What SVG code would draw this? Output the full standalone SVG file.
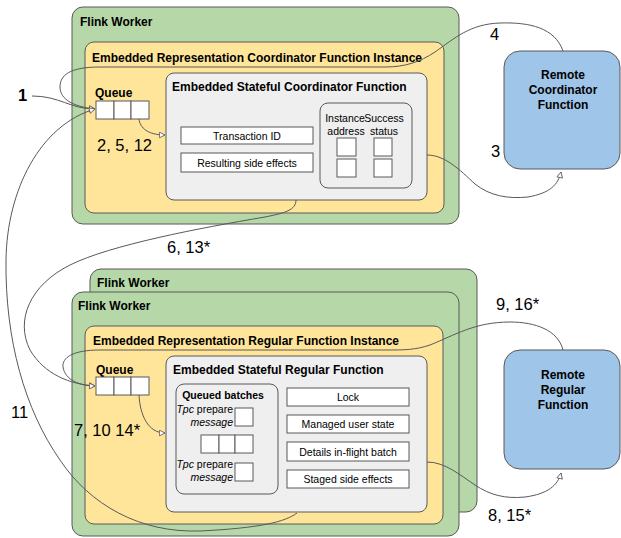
<svg xmlns="http://www.w3.org/2000/svg" width="621" height="538" viewBox="0 0 621 538">
<defs>
<style>
text{font-family:"Liberation Sans",Arial,sans-serif;fill:#000}
.worker{fill:#b6d7a8;stroke:#595959;stroke-width:1}
.inst{fill:#ffe599;stroke:#595959;stroke-width:1}
.func{fill:#efefef;stroke:#595959;stroke-width:1}
.remote{fill:#9fc5e8;stroke:#595959;stroke-width:1}
.cell{fill:#fff;stroke:#595959;stroke-width:1}
.t12b{font-size:12px;font-weight:bold}
.t105{font-size:10.5px}
.t105b{font-size:10.5px;font-weight:bold}
.num{font-size:16.5px}
.mid{text-anchor:middle}
.end{text-anchor:end}
.conn{fill:none;stroke:#595959;stroke-width:1}
</style>
<marker id="arr" viewBox="0 0 10 10" refX="9" refY="5" markerWidth="7" markerHeight="7" markerUnits="userSpaceOnUse" orient="auto">
<path d="M1,1 L9,5 L1,9 Z" fill="#fff" stroke="#595959" stroke-width="1.2"/>
</marker>
</defs>
<rect width="621" height="538" fill="#fff"/>

<g id="coord-worker">
<rect class="worker" x="72" y="7" width="387" height="217" rx="11"/>
<text class="t12b" x="80" y="26">Flink Worker</text>
</g>
<g id="coord-instance">
<rect class="inst" x="85" y="42" width="359" height="171" rx="9"/>
<text class="t12b" x="92" y="61.5">Embedded Representation Coordinator Function Instance</text>
</g>
<g id="coord-queue">
<text class="t12b" x="95" y="97">Queue</text>
<rect class="cell" x="96" y="101" width="18" height="18"/>
<rect class="cell" x="114" y="101" width="17" height="18"/>
<rect class="cell" x="131" y="101" width="18" height="18"/>
</g>
<g id="coord-function">
<rect class="func" x="166" y="73" width="261" height="127" rx="8"/>
<text class="t12b" x="172" y="91">Embedded Stateful Coordinator Function</text>
<rect class="cell" x="181" y="127" width="132" height="17"/>
<text class="t105 mid" x="247" y="139.5">Transaction ID</text>
<rect class="cell" x="181" y="153" width="132" height="19"/>
<text class="t105 mid" x="247" y="166.5">Resulting side effects</text>
</g>
<g id="coord-table">
<rect class="func" x="320" y="103" width="92" height="85" rx="8"/>
<text class="t105 mid" x="345" y="122">Instance</text>
<text class="t105 mid" x="384" y="122">Success</text>
<text class="t105 mid" x="346" y="135">address</text>
<text class="t105 mid" x="384" y="135">status</text>
<rect class="cell" x="337" y="138" width="19" height="18"/>
<rect class="cell" x="374" y="138" width="18" height="18"/>
<rect class="cell" x="337" y="159" width="19" height="18"/>
<rect class="cell" x="374" y="159" width="18" height="18"/>
</g>
<g id="remote-coordinator">
<rect class="remote" x="504" y="51" width="116" height="118" rx="16"/>
<text class="t12b mid" x="563" y="79">Remote</text>
<text class="t12b mid" x="563" y="94">Coordinator</text>
<text class="t12b mid" x="563" y="109">Function</text>
</g>

<g id="regular-worker-back">
<rect class="worker" x="90" y="269" width="387" height="243" rx="11"/>
<text class="t12b" x="97" y="287">Flink Worker</text>
</g>
<g id="regular-worker">
<rect class="worker" x="72" y="292" width="387" height="244" rx="11"/>
<text class="t12b" x="78" y="310">Flink Worker</text>
</g>
<g id="regular-instance">
<rect class="inst" x="85" y="326" width="358" height="198" rx="9"/>
<text class="t12b" x="93" y="345">Embedded Representation Regular Function Instance</text>
</g>
<g id="regular-queue">
<text class="t12b" x="96" y="374">Queue</text>
<rect class="cell" x="96" y="377" width="18" height="18"/>
<rect class="cell" x="114" y="377" width="17" height="18"/>
<rect class="cell" x="131" y="377" width="18" height="18"/>
</g>
<g id="regular-function">
<rect class="func" x="166" y="356" width="261" height="156" rx="8"/>
<text class="t12b" x="173" y="374">Embedded Stateful Regular Function</text>
<rect class="cell" x="287" y="388" width="122" height="18"/>
<text class="t105 mid" x="348" y="401">Lock</text>
<rect class="cell" x="287" y="415" width="122" height="18"/>
<text class="t105 mid" x="348" y="428">Managed user state</text>
<rect class="cell" x="287" y="442" width="122" height="19"/>
<text class="t105 mid" x="348" y="455.5">Details in-flight batch</text>
<rect class="cell" x="287" y="470" width="122" height="18"/>
<text class="t105 mid" x="348" y="483">Staged side effects</text>
</g>
<g id="queued-batches">
<rect class="func" x="176" y="384" width="102" height="110" rx="8"/>
<text class="t105b mid" x="223" y="399">Queued batches</text>
<text class="t105 end" x="233" y="413"><tspan font-style="italic">Tpc</tspan> prepare</text>
<text class="t105 end" x="233" y="425.5" font-style="italic">message</text>
<rect class="cell" x="235" y="408" width="18" height="18"/>
<rect class="cell" x="201" y="435" width="18" height="18"/>
<rect class="cell" x="219" y="435" width="16" height="18"/>
<rect class="cell" x="235" y="435" width="18" height="18"/>
<text class="t105 end" x="233" y="468"><tspan font-style="italic">Tpc</tspan> prepare</text>
<text class="t105 end" x="233" y="480.5" font-style="italic">message</text>
<rect class="cell" x="235" y="463" width="18" height="18"/>
</g>
<g id="remote-regular">
<rect class="remote" x="504" y="350" width="116" height="119" rx="16"/>
<text class="t12b mid" x="563" y="379">Remote</text>
<text class="t12b mid" x="563" y="394">Regular</text>
<text class="t12b mid" x="563" y="409">Function</text>
</g>

<g id="connectors">
<path class="conn" marker-end="url(#arr)" d="M32,96 C60,96 70,109 95,109"/>
<path class="conn" marker-end="url(#arr)" d="M563,51 C555,28 530,22 500,23 C470,24 455,38 435,52 C420,62 405,67 385,67 L100,67 C70,67 60,75 60,87 C60,100 75,107 95,109"/>
<path class="conn" marker-end="url(#arr)" d="M427,155 C445,155 460,170 475,184 C490,196 508,199 528,197 C550,193 558,185 561,172"/>
<path class="conn" marker-end="url(#arr)" d="M139,119 C140,128 148,135 165,135"/>
<path class="conn" marker-end="url(#arr)" d="M296,200 C296,210 285,213 265,217 C200,228 110,245 70,265 C30,285 15,320 30,350 C45,375 70,384 95,386"/>
<path class="conn" marker-end="url(#arr)" d="M563,350 C558,330 535,322 510,322 C475,322 455,335 430,345 C415,350 405,350 385,350 L100,350 C72,350 62,358 63,367 C65,380 80,386 95,386"/>
<path class="conn" marker-end="url(#arr)" d="M139,395 C140,415 148,433 165,433"/>
<path class="conn" marker-end="url(#arr)" d="M427,462 C445,462 460,475 475,485 C490,495 505,499 525,497 C548,494 558,485 561,473"/>
<path class="conn" marker-end="url(#arr)" d="M297,513 C285,522 260,528 200,531 C140,533 90,505 60,460 C25,410 5,340 6,260 C7,190 40,125 95,109"/>
</g>

<g id="labels">
<text class="num" x="18" y="101" font-weight="bold">1</text>
<text class="num" x="97" y="151">2, 5, 12</text>
<text class="num" x="490" y="39.5">4</text>
<text class="num" x="491" y="157">3</text>
<text class="num" x="167" y="253">6, 13*</text>
<text class="num" x="11" y="418">11</text>
<text class="num" x="74" y="436">7, 10 14*</text>
<text class="num" x="496" y="310">9, 16*</text>
<text class="num" x="488" y="521">8, 15*</text>
</g>
</svg>
